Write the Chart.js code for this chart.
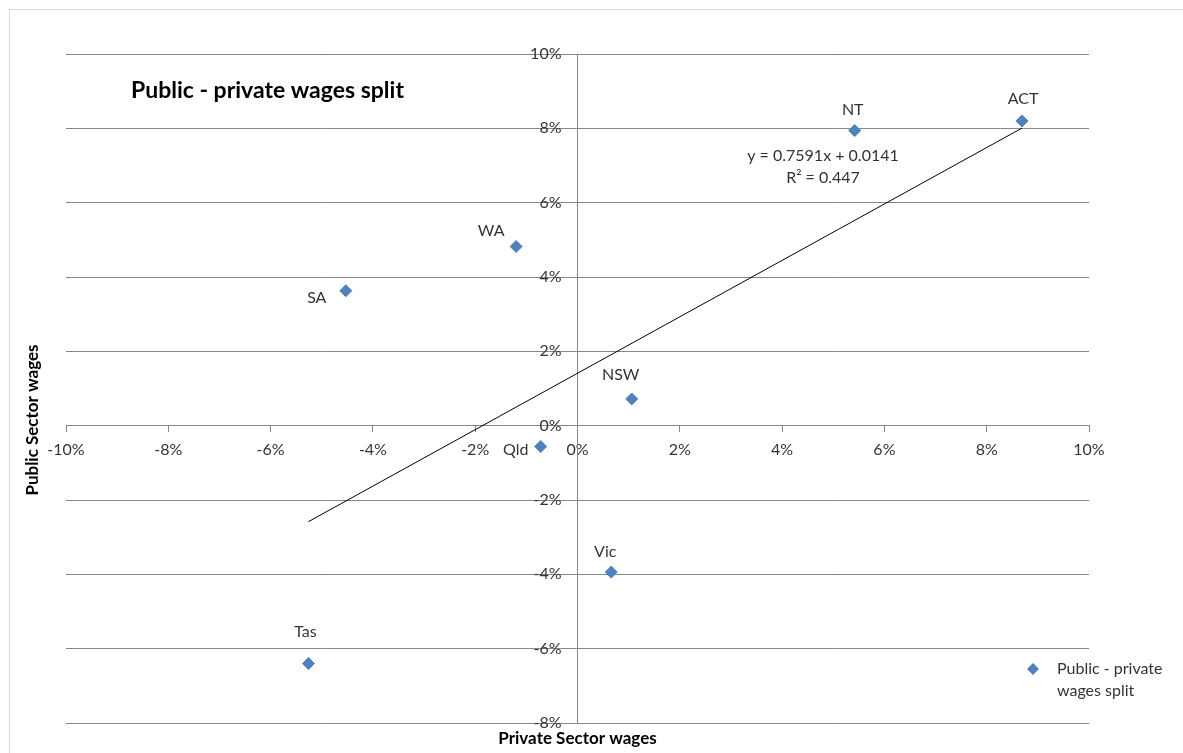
<!DOCTYPE html>
<html>
<head>
<meta charset="utf-8">
<title>Public - private wages split</title>
<script src="https://cdn.jsdelivr.net/npm/chart.js@4.4.0/dist/chart.umd.min.js"></script>
<style>
  html, body { margin: 0; padding: 0; background: #ffffff; }
  #wrap { position: relative; width: 1183px; height: 753px; }
  canvas { display: block; }
</style>
</head>
<body>
<div id="wrap"><canvas id="chart" width="1183" height="753"></canvas></div>
<script>
// Annual wage growth by state: private sector (x) against public sector (y)
const states = ['NSW', 'Vic', 'Qld', 'SA', 'WA', 'Tas', 'NT', 'ACT'];
const privateWages = [0.0106, 0.0066, -0.0072, -0.0453, -0.0120, -0.0526, 0.0542, 0.0869];
const publicWages  = [0.0072, -0.0394, -0.0056, 0.0363, 0.0482, -0.0640, 0.0794, 0.0820];

// Linear trendline fitted to the series
const trendSlope = 0.7591;
const trendIntercept = 0.0141;
const trendR2 = 0.447;

// Axis ranges and tick spacing
const xRange = [-0.10, 0.10];
const yRange = [-0.08, 0.10];
const tickStep = 0.02;

const seriesName = 'Public - private wages split';

// Label placement (pixel offsets of each state name from its marker)
const labelOffsets = [
  [-11, -24], [-6, -20], [-25, 3], [-29, 7],
  [-25, -16], [-3, -32], [-2, -21], [1, -22]
];

const FONT = 'Lato, "Open Sans", sans-serif';
const GRID = '#878787';
const TEXT = '#333333';
const BLUE = '#4F81BD';

const pct = v => Math.round(v * 100) + '%';
// value-axis labels sit a little left of the crossing axis line
const pctLeft = v => pct(v) + '\u2002\u2002';

const points = privateWages.map((x, i) => ({ x: x, y: publicWages[i] }));
const xLo = Math.min(...privateWages);
const xHi = Math.max(...privateWages);
const trendPoints = [
  { x: xLo, y: trendSlope * xLo + trendIntercept },
  { x: xHi, y: trendSlope * xHi + trendIntercept }
];

const decorations = {
  id: 'decorations',
  afterDatasetsDraw(chart) {
    const ctx = chart.ctx;
    const meta = chart.getDatasetMeta(0);
    ctx.save();
    ctx.font = '16px ' + FONT;
    ctx.fillStyle = TEXT;
    ctx.textAlign = 'center';
    ctx.textBaseline = 'middle';
    meta.data.forEach((pt, i) => {
      const off = labelOffsets[i];
      ctx.fillText(states[i], pt.x + off[0], pt.y + off[1]);
    });

    // trendline equation
    ctx.fillText('y = ' + trendSlope + 'x + ' + trendIntercept, 823, 156);
    ctx.fillText('R\u00B2 = ' + trendR2, 823, 178);
    ctx.restore();
  },
  afterDraw(chart) {
    const ctx = chart.ctx;
    const area = chart.chartArea;
    ctx.save();

    // outer frame
    ctx.strokeStyle = '#d9d9d9';
    ctx.lineWidth = 1;
    ctx.strokeRect(9.5, 9.5, 1200, 800);

    // chart title
    ctx.fillStyle = '#000';
    ctx.font = 'bold 23px ' + FONT;
    ctx.textAlign = 'left';
    ctx.textBaseline = 'middle';
    ctx.fillText(seriesName, 131, 91);

    // axis titles
    ctx.font = 'bold 17px ' + FONT;
    ctx.textAlign = 'center';
    ctx.fillText('Private Sector wages', (area.left + area.right) / 2, 739);
    ctx.save();
    ctx.translate(33, 420);
    ctx.rotate(-Math.PI / 2);
    ctx.fillText('Public Sector wages', 0, 0);
    ctx.restore();

    // legend
    const lx = 1033, ly = 669, r = 6;
    ctx.fillStyle = BLUE;
    ctx.beginPath();
    ctx.moveTo(lx, ly - r);
    ctx.lineTo(lx + r, ly);
    ctx.lineTo(lx, ly + r);
    ctx.lineTo(lx - r, ly);
    ctx.closePath();
    ctx.fill();
    ctx.fillStyle = TEXT;
    ctx.font = '16px ' + FONT;
    ctx.textAlign = 'left';
    ctx.fillText('Public - private', 1057, 669);
    ctx.fillText('wages split', 1057, 691);
    ctx.restore();
  }
};

new Chart(document.getElementById('chart'), {
  type: 'scatter',
  data: {
    datasets: [
      {
        label: seriesName,
        data: points,
        pointStyle: 'rectRot',
        pointRadius: 6,
        pointHoverRadius: 6,
        pointBorderWidth: 1,
        backgroundColor: BLUE,
        borderColor: BLUE,
        order: 2
      },
      {
        type: 'line',
        label: 'Linear trend',
        data: trendPoints,
        borderColor: '#000000',
        borderWidth: 1,
        pointRadius: 0,
        fill: false,
        order: 1
      }
    ]
  },
  options: {
    responsive: false,
    animation: false,
    devicePixelRatio: 1,
    layout: { padding: { left: 66, right: 94, top: 54, bottom: 30 } },
    plugins: {
      legend: { display: false },
      title: { display: false },
      tooltip: { enabled: false }
    },
    scales: {
      x: {
        type: 'linear',
        position: { y: 0 },
        min: xRange[0],
        max: xRange[1],
        afterFit: s => { s.height = 0; },
        ticks: {
          stepSize: tickStep,
          callback: pct,
          color: TEXT,
          font: { family: FONT, size: 16 },
          padding: 9,
          maxRotation: 0,
          autoSkip: false
        },
        grid: { drawOnChartArea: false, drawTicks: true, tickLength: 6, color: GRID },
        border: { display: true, color: GRID, width: 1 }
      },
      y: {
        type: 'linear',
        position: { x: 0 },
        min: yRange[0],
        max: yRange[1],
        afterFit: s => { s.width = 0; },
        ticks: {
          stepSize: tickStep,
          callback: pctLeft,
          color: TEXT,
          font: { family: FONT, size: 16 },
          padding: 10,
          autoSkip: false
        },
        grid: { color: GRID, tickLength: 6, drawTicks: true },
        border: { display: true, color: GRID, width: 1 }
      }
    }
  },
  plugins: [decorations]
});
</script>
</body>
</html>
